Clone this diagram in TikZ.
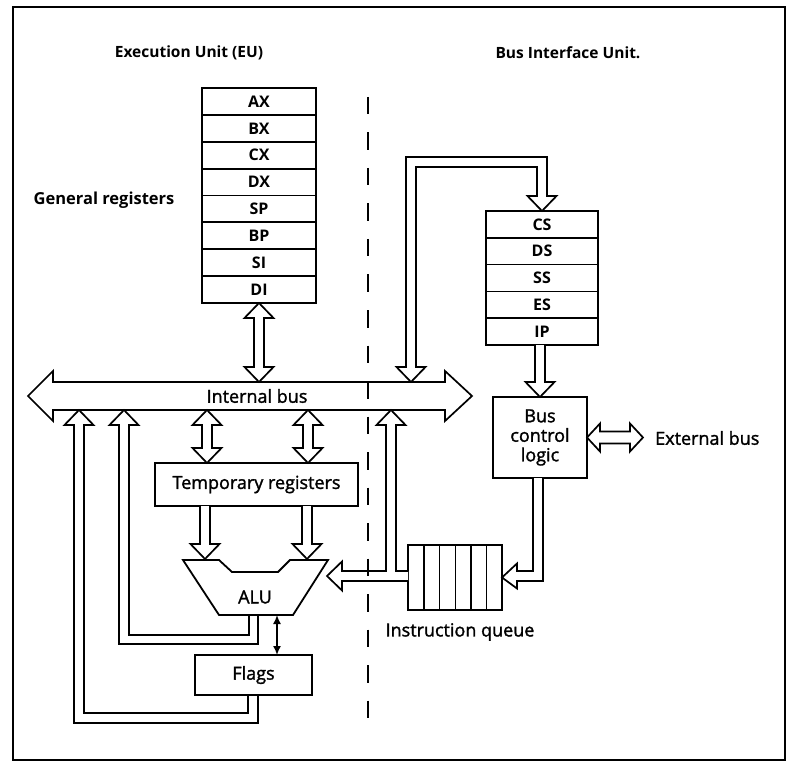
\documentclass[tikz,border=0pt]{standalone}
\usepackage{fontspec}
\setmainfont{Open Sans}
\newfontfamily\medfont[FakeBold=1.6]{Open Sans}
\usetikzlibrary{arrows.meta,calc}
\tikzset{
  outerframe/.style={draw, line width=1.8pt},
  plainbox/.style={draw, line width=1.8pt, inner sep=0pt, outer sep=0pt},
  regbox/.style={plainbox, minimum width=114pt, minimum height=26.875pt, font=\bfseries\fontsize{16}{16}\selectfont},
  segbox/.style={plainbox, minimum width=112pt, minimum height=26.8pt, font=\bfseries\fontsize{16}{16}\selectfont},
  fatarrow/.style={draw, line width=1.7pt, fill=white, line join=miter, miter limit=10},
  wireline/.style={draw, line width=1.7pt, line join=miter},
  lbltext/.style={font=\medfont\fontsize{18}{19.5}\selectfont, inner sep=0pt},
  titletext/.style={font=\bfseries\fontsize{15.5}{15.5}\selectfont, inner sep=0pt},
  unitdiv/.style={draw, line width=1.8pt, dash pattern=on 17.5pt off 18pt},
}
\newcommand\fatVV[2]{\draw[fatarrow] (#1) -- ($(#1)+(14.5,15)$) -- ($(#1)+(5,15)$) -- ($(#2)+(5,-15)$) -- ($(#2)+(14.5,-15)$) -- (#2) -- ($(#2)+(-14.5,-15)$) -- ($(#2)+(-5,-15)$) -- ($(#1)+(-5,15)$) -- ($(#1)+(-14.5,15)$) -- cycle;}
\newcommand\fatHH[2]{\draw[fatarrow] (#1) -- ($(#1)+(13,-14)$) -- ($(#1)+(13,-6)$) -- ($(#2)+(-13,-6)$) -- ($(#2)+(-13,-14)$) -- (#2) -- ($(#2)+(-13,14)$) -- ($(#2)+(-13,6)$) -- ($(#1)+(13,6)$) -- ($(#1)+(13,14)$) -- cycle;}
\newcommand\fatDown[2]{\draw[fatarrow] ($(#1)+(-5,0)$) -- ($(#2)+(-5,-15)$) -- ($(#2)+(-14.5,-15)$) -- (#2) -- ($(#2)+(14.5,-15)$) -- ($(#2)+(5,-15)$) -- ($(#1)+(5,0)$);}
\begin{document}
\begin{tikzpicture}[x=1pt,y=-1pt]
\useasboundingbox (0,0) rectangle (790,762);
\draw[outerframe] (13,7) rectangle (785,760);

% titles
\node[titletext] (eu) at (189,53) {Execution Unit (EU)};
\node[titletext] (biu) at (568,53) {Bus Interface Unit.};
\node[titletext, font=\bfseries\fontsize{16.5}{16.5}\selectfont] (gr) at (104,200) {General registers};

% general registers
\foreach \n [count=\i from 0] in {AX,BX,CX,DX,SP,BP,SI,DI}
  \node[regbox] (r\n) at (259,{88+26.875*\i+13.4375}) {\n};

% segment registers
\foreach \n [count=\i from 0] in {CS,DS,SS,ES,IP}
  \node[segbox] (s\n) at (542,{211+26.8*\i+13.4}) {\n};

% internal bus
\draw[fatarrow] (28,396) -- (53,371) -- (53,382) -- (445,382) -- (445,371) -- (472,396) -- (445,421) -- (445,410) -- (53,410) -- (53,421) -- cycle;
\node[lbltext] (ibus) at (257,396) {Internal bus};
\coordinate (busT) at (0,382);
\coordinate (busB) at (0,410);

% boxes
\node[plainbox, lbltext, minimum width=203pt, minimum height=43pt] (temp) at (256.5,484.5) {Temporary registers};
\node[plainbox, lbltext, minimum width=117pt, minimum height=40pt] (flags) at (253.5,675) {Flags};
\node[plainbox, lbltext, minimum width=94pt, minimum height=81pt, align=center] (bcl) at (540,437.5) {Bus\\control\\logic};
\node[plainbox, minimum width=94pt, minimum height=65pt] (queue) at (455,577.5) {};
\foreach \k in {1,...,5}
  \draw[line width=1.6pt] ($(queue.north west)+({\k*15.67+0.3},0)$) -- ($(queue.south west)+({\k*15.67+0.3},0)$);
\node[lbltext] (iq) at (460,632) {Instruction queue};
\node[lbltext, anchor=west] (ext) at (655,438) {External bus};

% ALU
\draw[plainbox, line join=miter] (183,560) -- (219,560) -- (232,572) -- (278,572) -- (290,560) -- (328,560) -- (293,615) -- (219,615) -- cycle;
\node[lbltext] (alu) at (255,597) {ALU};
\coordinate (aluT) at (0,559);
\coordinate (aluB) at (0,615);

% registers <-> bus
\coordinate (regbus) at (rDI.south |- busT);
\fatVV{rDI.south}{regbus}

% temp <-> bus
\coordinate (tb1) at ($(temp.north west)+(52,0)$);
\coordinate (tt1) at (tb1 |- busB);
\fatVV{tt1}{tb1}
\coordinate (tb2) at ($(temp.north west)+(153,0)$);
\coordinate (tt2) at (tb2 |- busB);
\fatVV{tt2}{tb2}

% temp -> ALU
\coordinate (ta1) at ($(temp.south west)+(50,0)$);
\coordinate (ai1) at (ta1 |- aluT);
\fatDown{ta1}{ai1}
\coordinate (ta2) at ($(temp.south west)+(152,0)$);
\coordinate (ai2) at (ta2 |- aluT);
\fatDown{ta2}{ai2}

% ALU <-> flags
\coordinate (fa) at ($(flags.north west)+(82,0)$);
\coordinate (af) at (fa |- aluB);
\draw[line width=1.6pt, {Latex[length=9pt,width=8pt]}-{Latex[length=9pt,width=8pt]}] (af) -- (fa);

% ALU result loop -> bus
\draw[wireline] (249,615) -- (249,635) -- (129,635) -- (129,425) -- (138.5,425) -- (124,410) -- (109.5,425) -- (119,425) -- (119,644) -- (258,644) -- (258,615);

% flags loop -> bus
\draw[wireline] (248,695) -- (248,713) -- (84,713) -- (84,425) -- (93.5,425) -- (79,410) -- (64.5,425) -- (74,425) -- (74,723) -- (258,723) -- (258,695);

% bus <-> CS
\draw[fatarrow] (411,382) -- (425.5,367) -- (416,367) -- (416,167) -- (537,167) -- (537,196) -- (527.5,196) -- (sCS.north) -- (556.5,196) -- (547,196) -- (547,157) -- (406,157) -- (406,367) -- (396.5,367) -- cycle;

% IP -> bus control logic
\coordinate (ipo) at (bcl.north |- sIP.south);
\fatDown{ipo}{bcl.north}

% external bus
\coordinate (extTip) at ($(bcl.east)+(56,0)$);
\fatHH{bcl.east}{extTip}

% bus control logic -> queue
\draw[fatarrow] (533,478) -- (533,571) -- (517,571) -- (517,563.5) -- (queue.east) -- (517,588.5) -- (517,581) -- (543,581) -- (543,478);

% queue -> ALU and bus
\draw[fatarrow] (408,571) -- (396,571) -- (396,425) -- (405.5,425) -- (391,410) -- (376.5,425) -- (386,425) -- (386,571) -- (342,571) -- (342,561.5) -- (327,576) -- (342,590.5) -- (342,581) -- (408,581);

% EU / BIU divider
\draw[unitdiv] (368,97) -- (368,722);
\end{tikzpicture}
\end{document}
